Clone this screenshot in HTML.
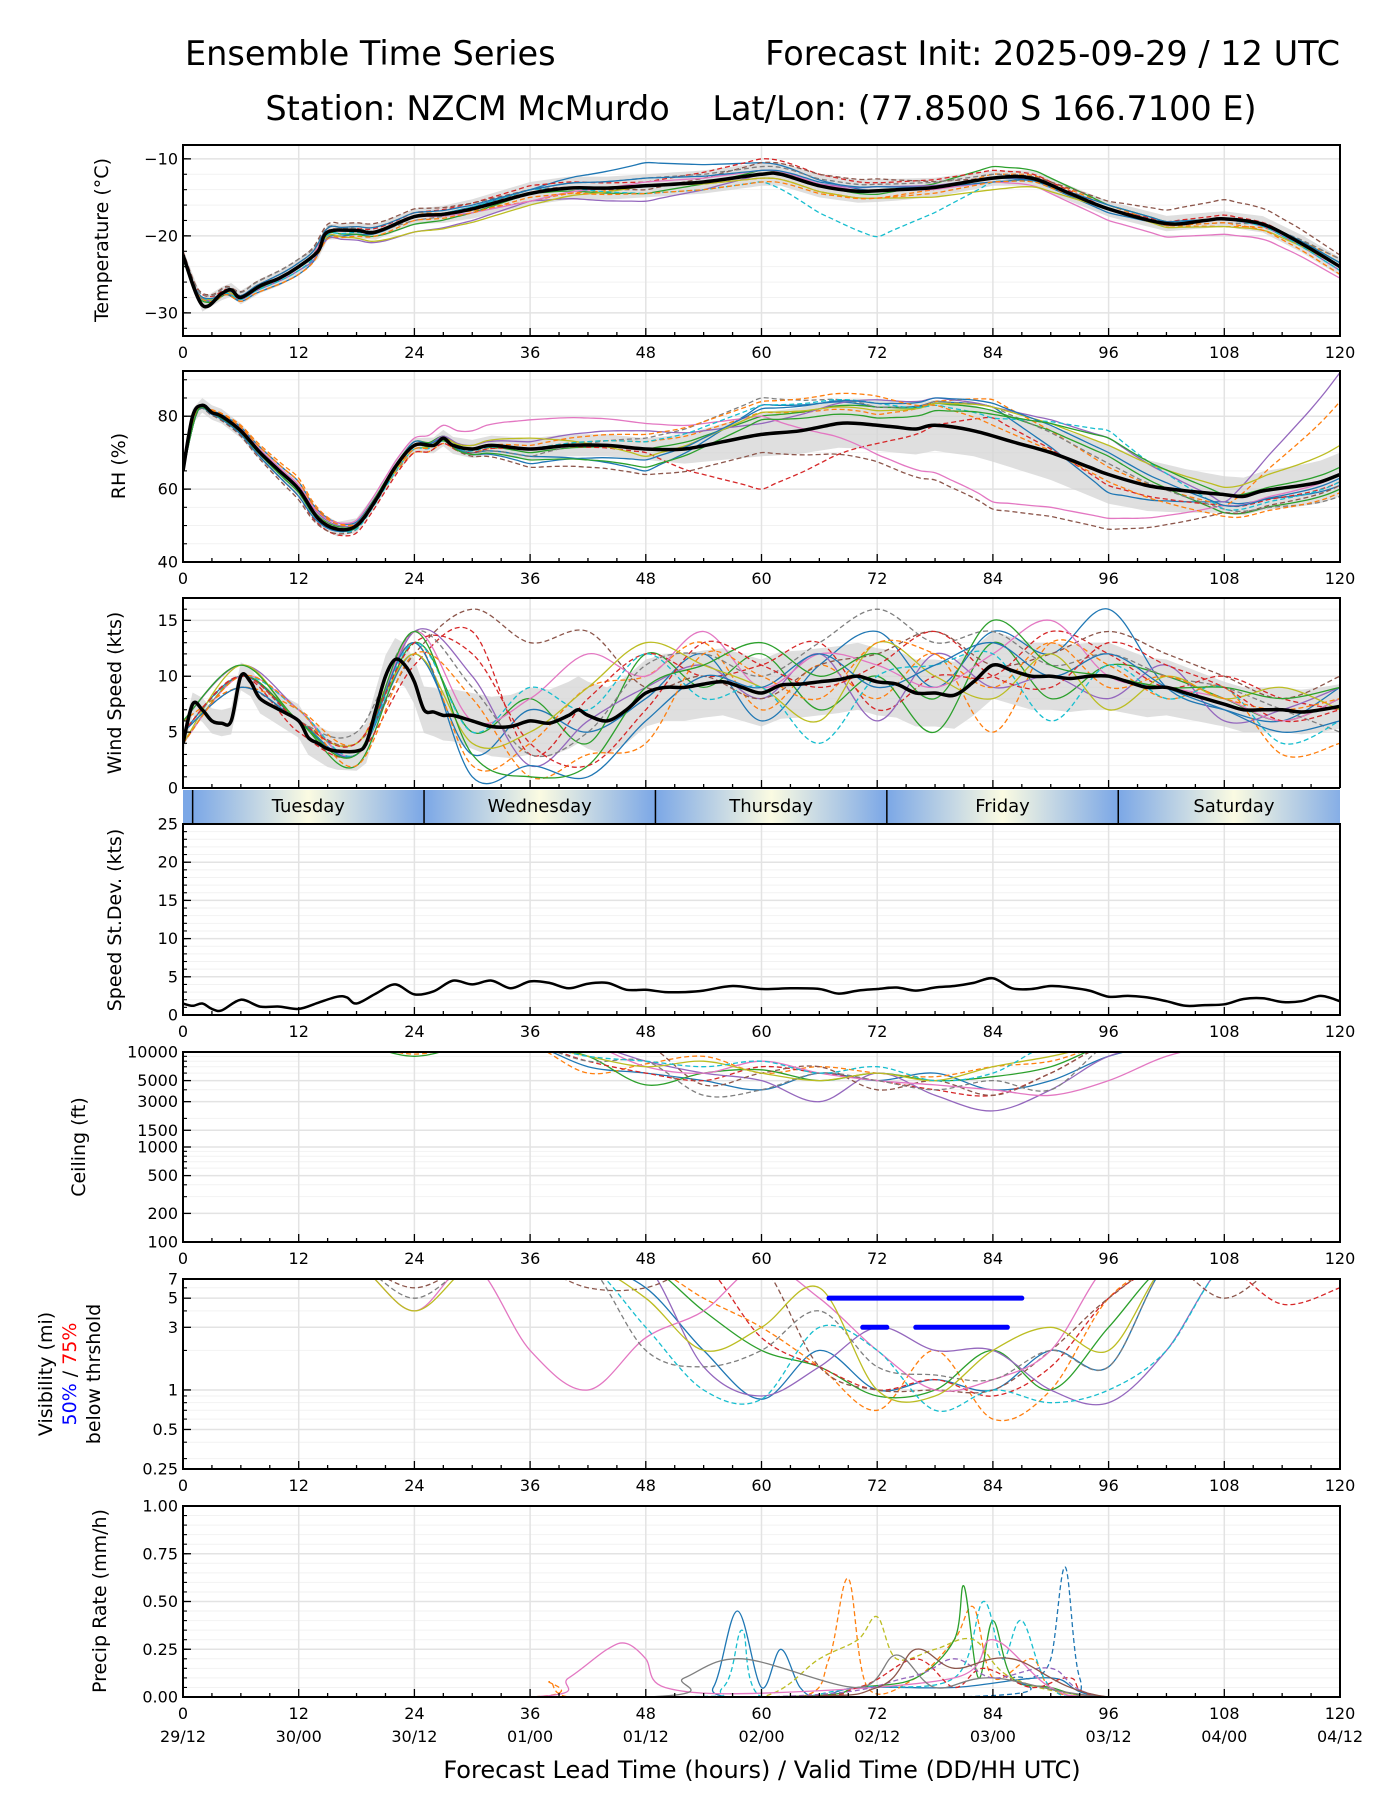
<!DOCTYPE html>
<html><head><meta charset="utf-8"><title>Ensemble Time Series</title>
<style>
html,body{margin:0;padding:0;background:#fff;}
svg{display:block;font-family:"DejaVu Sans","Liberation Sans",sans-serif;}
</style></head>
<body>
<svg id="chart" width="1400" height="1800" viewBox="0 0 1400 1800" xmlns="http://www.w3.org/2000/svg">
<rect x="0" y="0" width="1400" height="1800" fill="#fff"/>
<text x="185" y="65" font-size="33.5" fill="#000">Ensemble Time Series</text>
<text x="1340" y="65" font-size="33.5" fill="#000" text-anchor="end">Forecast Init: 2025-09-29 / 12 UTC</text>
<text x="761" y="120" font-size="33.5" fill="#000" text-anchor="middle" xml:space="preserve">Station: NZCM McMurdo    Lat/Lon: (77.8500 S 166.7100 E)</text>
<text x="762" y="1778" font-size="24" fill="#000" text-anchor="middle">Forecast Lead Time (hours) / Valid Time (DD/HH UTC)</text>
</svg>
<script>
// ---------- DATA ----------
const colors=["#1f77b4","#ff7f0e","#2ca02c","#d62728","#9467bd","#8c564b","#e377c2","#7f7f7f","#bcbd22","#17becf"];
const xTickHours=[0,12,24,36,48,60,72,84,96,108,120];
const dateLabels=["29/12","30/00","30/12","01/00","01/12","02/00","02/12","03/00","03/12","04/00","04/12"];
const dayNames=["Tuesday","Wednesday","Thursday","Friday","Saturday"];
const dayStarts=[1,25,49,73,97];
const grid12=[0,12,24,36,48,60,72,84,96,108,120];
const grid6=[0,6,12,18,24,30,36,42,48,54,60,66,72,78,84,90,96,102,108,114,120];

const tempHours=[0,2,4,5,6,8,10,12,14,15,18,20,24,27,30,36,40,44,48,54,60,62,66,70,74,78,84,88,92,96,102,106,108,112,116,120];
const tempMean=[-22.5,-29,-27.5,-27,-28,-26.5,-25.5,-24,-22,-19.5,-19.3,-19.5,-17.5,-17.2,-16.5,-14.5,-13.8,-13.8,-13.5,-13,-12,-12,-13.5,-14.2,-14,-13.7,-12.5,-12.5,-14.5,-16.5,-18.4,-18,-17.8,-18.5,-21,-24];
const tempSpread=[0.8,1,1,1.5,1.5,1.5,1.5,1,1,1,1.2];
const tempM1=[0,-1,0,0.5,3,1.5,0,0,-0.5,0,0];
const tempM2=[0,0.5,0.5,-1,0,-0.5,-1,0.5,0.5,-1,1];
const tempM3=[-0.5,0,-1,0,-1,0.5,-0.5,1.5,0.5,0,0.5];
const tempM4=[0.5,0,0.5,1,0.5,2,1,1,0,0.5,0];
const tempM5=[0,-0.5,-2,-1,-2,0,0.5,0,0,0,-0.5];
const tempM6=[0.5,1,1,0.5,-0.5,1.5,1.5,0,1,2.5,1.5];
const tempM7=[0,0,0,-1,0.5,0.5,0,-0.5,-1.5,-2,-1.5];
const tempM8=[0.3,1,-0.5,0.5,1,1,0.8,0.5,0,-0.5,1];
const tempM9=[0,0,-2,-1.5,0,-0.5,-1,-1.5,0,-1,0];
const tempM10=[0,-0.5,0,0.5,-1,-1,-6,-0.5,0,0,-0.5];
const tempM11=[0,0.5,0.5,0.5,1,0.5,0.5,-0.5,0.5,0,0.5];
const tempM12=[0,-1,-0.5,-0.5,-1,-1,-1,-0.5,0,-0.5,-1];

const rhHours=[0,1,2,3,4,6,8,10,12,14,16,18,20,22,24,26,27,28,30,32,36,40,44,48,52,56,60,64,68,70,72,74,76,78,82,86,90,94,96,100,104,108,110,112,116,118,120];
const rhMean=[65,80,83,81,80,76,70,65,60,52,49,50,57,66,72,72,74,72,71,72,71,72,72,71,71,73,75,76,78,78,77.5,77,76.5,77.5,76,73,70,66,64,61,59.5,58.5,58,59.5,61,62,64];
const rhSpread=[2,2,2,3,3,6,7,7,8,5,6];
const rhM1=[0,2,0,-2,-6,8,5,8,-5,-2,-3];
const rhM2=[0,3,-2,0,2,6,3,10,2,-3,20];
const rhM3=[0,0,1,-1,0,5,5,7,5,-5,-4];
const rhM4=[0,-2,-2,0,-1,-15,-5,5,-3,-3,-2];
const rhM5=[0,1,0,2,5,3,7,8,10,-2,28];
const rhM6=[0,-3,1,-5,-7,-5,-10,-20,-15,-5,-3];
const rhM7=[0,1,2,8,7,5,-8,-18,-12,-3,0];
const rhM8=[0,0,0,-2,3,10,5,8,3,-4,-6];
const rhM9=[0,0,-1,3,-2,6,4,8,8,2,8];
const rhM10=[0,-1,-1,0,2,8,6,5,12,-4,-2];
const rhM11=[0,-2,1,-4,-3,7,6,9,6,-3,-1];
const rhM12=[0,2,-1,1,4,9,8,3,-2,-6,-5];
const rhM13=[0,-1,0,-3,-5,4,2,6,10,0,2];

const windHours=[0,1,2,3,4,5,6,7,8,10,12,13,14,15,16,18,19,20,21,22,23,24,25,26,27,28,30,32,34,36,38,40,41,42,44,46,48,50,52,54,56,58,60,62,64,66,68,70,72,74,76,78,80,82,84,86,88,90,92,94,96,98,100,102,104,106,108,110,112,114,116,118,120];
const windMean=[4,7.5,7,6,5.8,6,10,9.5,8,7,6,4.5,4,3.5,3.3,3.3,4,7,10,11.5,11,9.5,7,6.8,6.5,6.5,6,5.5,5.5,6,5.8,6.5,7,6.5,6,7,8.5,9,9,9.3,9.5,9,8.5,9.2,9.3,9.5,9.7,10,9.5,9.3,8.5,8.5,8.3,9.5,11,10.5,10,10,9.8,10,10,9.5,9,9,8.5,8,7.5,7,7,7,6.8,7,7.3];
const windSpread=[1,1.5,2,3,3,3,3,3,3,2,2];
const windM1=[5,10,6,3,12,3,7,5,8,12,6,11,14,9,14,12,16,9,7,6,9];
const windM2=[6,9,7,4,13,2,4,9,10,13,7,11,8,12,5,13,11,8,9,3,4];
const windM3=[4,10,6,2,13,5,8,4,12,9,12,7,10,5,13,8,11,10,8,6,8];
const windM4=[5,10,5,3,11,14,3,8,12,10,11,13,7,10,10,14,12,9,10,8,7];
const windM5=[6,11,7,3,14,10,2,6,9,11,8,12,6,12,9,10,8,11,6,7,9];
const windM6=[5,9,6,4,12,16,13,14,9,10,8,11,12,14,11,12,14,12,10,8,10];
const windM7=[4,10,7,3,14,6,8,12,10,14,9,12,11,9,12,15,10,9,8,6,8];
const windM8=[5,10,6,5,14,9,3,5,11,12,10,13,16,13,14,11,12,10,9,7,5];
const windM9=[4,11,6,4,12,4,5,9,13,11,9,6,13,10,8,12,7,10,8,9,7];
const windM10=[5,10,7,3,13,5,9,7,12,8,9,4,10,11,12,6,11,8,9,4,6];
const windM11=[5,9,6,3,13,1,2,1,6,10,9,12,9,11,13,10,12,9,7,5,6];
const windM12=[4,10,7,2,12,8,1,3,4,12,10,8,13,12,9,13,9,10,8,7,8];
const windM13=[6,11,6,3,14,3,1,2,9,11,13,10,12,8,15,11,10,9,9,8,9];
const windM14=[5,10,6,4,13,12,4,2,7,13,11,9,11,14,10,9,13,11,9,6,7];

const sdHours=[0,1,2,3,4,6,8,10,12,14,16,17,18,20,22,24,26,28,30,32,34,36,38,40,42,44,46,48,50,52,54,57,60,63,66,68,70,72,74,76,78,80,82,84,86,88,90,92,94,96,98,100,102,104,106,108,110,112,114,116,118,120];
const sdValues=[1.5,1.2,1.5,0.8,0.6,2,1.1,1.1,0.8,1.6,2.4,2.3,1.5,2.8,4,2.7,3.1,4.5,4,4.5,3.5,4.4,4.2,3.5,4.1,4.2,3.3,3.3,3,3,3.2,3.8,3.4,3.5,3.4,2.8,3.2,3.4,3.6,3.2,3.6,3.8,4.2,4.8,3.5,3.4,3.8,3.6,3.2,2.4,2.5,2.3,1.8,1.2,1.3,1.4,2.1,2.2,1.7,1.8,2.5,1.8];

const ceilM1=[12000,12000,12000,12000,12000,12000,12000,7000,6000,5000,4000,6000,5000,6000,4000,5000,9000,12000,12000,12000,12000];
const ceilM2=[12000,12000,12000,12000,9500,12000,12000,6000,7500,9000,6000,7000,6000,5500,7000,8000,12000,12000,11000,12000,12000];
const ceilM3=[12000,12000,12000,12000,9000,12000,12000,9000,4500,6000,6500,5000,6000,5000,5500,7000,12000,12000,12000,12000,12000];
const ceilM4=[12000,12000,12000,12000,12000,12000,12000,8000,6000,5000,7000,6000,5000,4000,3500,6000,12000,12000,12000,12000,12000];
const ceilM5=[12000,12000,12000,12000,12000,12000,12000,12000,8000,6000,5000,3000,6000,3500,2400,4000,9000,12000,12000,12000,12000];
const ceilM6=[12000,12000,12000,12000,12000,12000,12000,12000,12000,4500,6000,7000,4000,5000,3500,6000,12000,12000,12000,12000,12000];
const ceilM7=[12000,12000,12000,12000,12000,12000,12000,12000,7000,6000,8000,6000,5000,4500,4000,3500,5000,9000,12000,12000,12000];
const ceilM8=[12000,12000,12000,12000,12000,12000,12000,8000,8000,3500,4000,6000,5000,4000,5000,4000,12000,12000,12000,12000,12000];
const ceilM9=[12000,12000,12000,12000,12000,12000,12000,9000,7000,8000,6000,5000,6000,5000,7000,9000,12000,12000,12000,12000,12000];
const ceilM10=[12000,12000,12000,12000,12000,12000,12000,9000,8000,7000,8000,6000,7000,5000,6000,12000,12000,12000,12000,12000,12000];

const visM1=[9,9,9,9,9,9,9,9,6,2,0.85,2,1,1.2,1,2,1.5,9,9,9,9];
const visM2=[9,9,9,9,9,9,9,9,9,5,3,1.5,0.7,2,0.6,1,5,9,9,9,9];
const visM3=[9,9,9,9,9,9,9,9,9,4,2,1.5,0.9,1,2,1,3,9,9,9,9];
const visM4=[9,9,9,9,9,9,9,9,9,9,2.5,1.5,1,1.2,0.9,1.5,5,9,9,4.5,6];
const visM5=[9,9,9,9,9,9,9,9,9,1.5,0.9,1.5,3,2,2,1,0.8,2,9,9,9];
const visM6=[9,9,9,9,6,9,9,6,6,9,9,1.5,1,1,1,2,5,9,5,9,9];
const visM7=[9,9,9,9,4,9,2,1,2.5,4,9,5,2,1,1.2,2,9,9,9,9,9];
const visM8=[9,9,9,9,5,9,9,9,2,1.5,2,4,1.5,1.3,1.2,2,1.5,9,9,9,9];
const visM9=[9,9,9,9,4,9,9,9,5,2,3,6,1,0.9,2,3,2,9,9,9,9];
const visM10=[9,9,9,9,9,9,9,9,3,1,0.85,3,2,0.7,1,0.8,1,2,9,9,9];
const visThrLevel=[5,3,3];
const visThrStart=[67,70.5,76];
const visThrEnd=[87,73,85.5];

const precipH1=[0,52,55,57.5,60,62,64,66,70,80,90,96];
const precipV1=[0,0,0.05,0.45,0.05,0.25,0.05,0,0.05,0.05,0.1,0];
const precipH2=[0,36,38,40,50,64,67,69,71,76,80,82,84,88,90,95];
const precipV2=[0,0,0.08,0,0,0,0.2,0.62,0.05,0.1,0.3,0.47,0.1,0.2,0.05,0];
const precipH3=[0,60,70,76,80,81,82.5,84,86,90,96];
const precipV3=[0,0,0.05,0.1,0.3,0.58,0.1,0.4,0.1,0.05,0];
const precipH4=[0,50,56,58,60,70,80,83,85,87,90,96];
const precipV4=[0,0,0.05,0.35,0,0.05,0.1,0.5,0.2,0.4,0.05,0];
const precipH5=[0,80,86,88,90,91.5,93,96];
const precipV5=[0,0,0.1,0.1,0.2,0.68,0.1,0];
const precipH6=[0,48,60,66,70,72,74,78,82,86,96];
const precipV6=[0,0,0,0.2,0.3,0.42,0.2,0.25,0.3,0.1,0];
const precipH7=[0,36,40,44,46,48,50,60,80,84,90,96];
const precipV7=[0,0,0.1,0.25,0.28,0.2,0.05,0.02,0.1,0.3,0.05,0];
const precipH8=[0,60,70,76,80,83,88,92,96];
const precipV8=[0,0,0.05,0.2,0.05,0.15,0.05,0.1,0];
const precipH9=[0,48,52,58,70,74,78,84,96];
const precipV9=[0,0,0.1,0.2,0.05,0.22,0.05,0.1,0];
const precipH10=[0,60,75,80,84,90,96];
const precipV10=[0,0,0.1,0.2,0.1,0.15,0];
const precipH11=[0,60,72,76,80,86,96];
const precipV11=[0,0,0.05,0.25,0.15,0.2,0];

// ---------- HELPERS ----------
const NS="http://www.w3.org/2000/svg";
const svg=document.getElementById("chart");
const X0=183,X1=1340;
const xs=h=>X0+h*(X1-X0)/120;
function mk(tag,attrs,parent){const e=document.createElementNS(NS,tag);for(const k in attrs)e.setAttribute(k,attrs[k]);(parent||svg).appendChild(e);return e;}
function interp(hs,vs,h){if(h<=hs[0])return vs[0];for(let i=1;i<hs.length;i++){if(h<=hs[i]){const t=(h-hs[i-1])/(hs[i]-hs[i-1]);return vs[i-1]+t*(vs[i]-vs[i-1]);}}return vs[vs.length-1];}
function smooth(pts){if(!pts.length)return"";let d="M"+pts[0][0].toFixed(1)+","+pts[0][1].toFixed(1);for(let i=0;i<pts.length-1;i++){const p0=pts[Math.max(0,i-1)],p1=pts[i],p2=pts[i+1],p3=pts[Math.min(pts.length-1,i+2)];const c1x=p1[0]+(p2[0]-p0[0])/6,c1y=p1[1]+(p2[1]-p0[1])/6,c2x=p2[0]-(p3[0]-p1[0])/6,c2y=p2[1]-(p3[1]-p1[1])/6;d+="C"+c1x.toFixed(1)+","+c1y.toFixed(1)+" "+c2x.toFixed(1)+","+c2y.toFixed(1)+" "+p2[0].toFixed(1)+","+p2[1].toFixed(1);}return d;}
function linY(p){return v=>p.b-(v-p.min)/(p.max-p.min)*(p.b-p.t);}
function logY(p){const a=Math.log10(p.min),b=Math.log10(p.max);return v=>p.b-(Math.log10(v)-a)/(b-a)*(p.b-p.t);}

function frame(p,key,majors,labels,minors){
  const g=mk("g",{});
  
  
  const cp=mk("clipPath",{id:"clip-"+key},g);
  mk("rect",{x:X0,y:p.t,width:X1-X0,height:p.b-p.t},cp);
  minors.forEach(v=>{const y=p.y(v);const l=mk("line",{x1:X0,x2:X1,y1:y,y2:y,stroke:"#f2f2f2","stroke-width":1},g);
    
    });
  majors.forEach(v=>{const y=p.y(v);const l=mk("line",{x1:X0,x2:X1,y1:y,y2:y,stroke:"#e3e3e3","stroke-width":1.5},g);
    
    });
  xTickHours.forEach(h=>{const l=mk("line",{x1:xs(h),x2:xs(h),y1:p.t,y2:p.b,stroke:"#e3e3e3","stroke-width":1.5},g);
    
    });
  const data=mk("g",{"clip-path":"url(#clip-"+key+")"},g);
  
  
  p.data=data;
  p.axisGroup=g;
  p.key=key;p.majors=majors;p.labels=labels;p.minors=minors;
  return p;
}
function finish(p,showHours){
  const g=p.axisGroup,key=p.key;
  for(let h=0;h<=120;h+=3){const maj=h%12===0;const l=mk("line",{x1:xs(h),x2:xs(h),y1:p.b,y2:p.b-(maj?8:4),stroke:"#000","stroke-width":1.3},g);
    
    }
  p.minors.forEach(v=>{const y=p.y(v);const l=mk("line",{x1:X0,x2:X0+4,y1:y,y2:y,stroke:"#000","stroke-width":1.1},g);
    
    });
  p.majors.forEach((v,i)=>{const y=p.y(v);const l=mk("line",{x1:X0,x2:X0+8,y1:y,y2:y,stroke:"#000","stroke-width":1.3},g);
    
    
    const t=mk("text",{x:X0-5,y:y+5.5,"font-size":16,"text-anchor":"end",fill:"#000"},g);
    
    
    t.textContent=p.labels[i];});
  const r=mk("rect",{x:X0,y:p.t,width:X1-X0,height:p.b-p.t,fill:"none",stroke:"#000","stroke-width":2},g);
  
  
  if(showHours){xTickHours.forEach(h=>{const t=mk("text",{x:xs(h),y:p.b+22,"font-size":16,"text-anchor":"middle",fill:"#000"},g);
    
    
    t.textContent=String(h);});}
}
function ylabel(lines,x,cy,key){
  lines.forEach((ln,i)=>{const t=mk("text",{x:0,y:0,"font-size":19,"text-anchor":"middle",fill:"#000",transform:"translate("+(x+i*24)+","+cy+") rotate(-90)"});
    
    
    if(Array.isArray(ln)){ln.forEach(sp=>{const s=mk("tspan",{fill:sp[1]},t);s.textContent=sp[0];});}else t.textContent=ln;});
}
function drawMemberOffsets(p,mh,mv,offs,key){
  offs.forEach((o,i)=>{const pts=[];for(let h=0;h<=120;h+=1.5){pts.push([xs(h),p.y(interp(mh,mv,h)+interp(grid12,o,h))]);}
    const path=mk("path",{d:smooth(pts),fill:"none",stroke:colors[i%10],"stroke-width":1.3,"stroke-dasharray":i%2?"5,3":"none"},p.data);
    
    });
}
function drawMemberAbs(p,grid,mems,key,clampMin){
  mems.forEach((m,i)=>{const pts=grid.map((h,j)=>[xs(h),p.y(Math.max(clampMin,m[j]))]);
    const path=mk("path",{d:smooth(pts),fill:"none",stroke:colors[i%10],"stroke-width":1.3,"stroke-dasharray":i%2?"5,3":"none"},p.data);
    
    });
}
function drawBand(p,mh,mv,spread,key){
  const up=[],lo=[];for(let h=0;h<=120;h+=1){const m=interp(mh,mv,h),s=interp(grid12,spread,h);up.push(xs(h).toFixed(1)+","+p.y(m+s).toFixed(1));lo.unshift(xs(h).toFixed(1)+","+p.y(m-s).toFixed(1));}
  const poly=mk("polygon",{points:up.concat(lo).join(" "),fill:"#d4d4d4","fill-opacity":0.75},p.data);
  
  
}
function drawMean(p,mh,mv,key,w){
  const pts=mh.map((h,i)=>[xs(h),p.y(mv[i])]);
  const path=mk("path",{d:smooth(pts),fill:"none",stroke:"#000","stroke-width":w,"stroke-linejoin":"round"},p.data);
  
  
}
function rng(a,b,s){const r=[];for(let v=a;v<=b+1e-9;v+=s)r.push(+v.toFixed(3));return r;}

// ---------- TEMPERATURE ----------
const pT={t:145,b:336,min:-33,max:-8.2};pT.y=linY(pT);
frame(pT,"temperature",[-10,-20,-30],["\u221210","\u221220","\u221230"],rng(-32,-10,2));
drawBand(pT,tempHours,tempMean,tempSpread,"temperature");
drawMemberOffsets(pT,tempHours,tempMean,[tempM1,tempM2,tempM3,tempM4,tempM5,tempM6,tempM7,tempM8,tempM9,tempM10,tempM11,tempM12],"temperature");
drawMean(pT,tempHours,tempMean,"temperature",3.5);
finish(pT,true);
ylabel(["Temperature (\u00b0C)"],108,240,"temperature");

// ---------- RH ----------
const pR={t:371,b:562,min:40,max:92.4};pR.y=linY(pR);
frame(pR,"rh",[40,60,80],["40","60","80"],rng(45,90,5));
drawBand(pR,rhHours,rhMean,rhSpread,"rh");
drawMemberOffsets(pR,rhHours,rhMean,[rhM1,rhM2,rhM3,rhM4,rhM5,rhM6,rhM7,rhM8,rhM9,rhM10,rhM11,rhM12,rhM13],"rh");
drawMean(pR,rhHours,rhMean,"rh",3.5);
finish(pR,true);
ylabel(["RH (%)"],125,466,"rh");

// ---------- WIND ----------
const pW={t:598,b:788,min:0,max:17};pW.y=linY(pW);
frame(pW,"wind",[0,5,10,15],["0","5","10","15"],rng(1,16,1));
drawBand(pW,windHours,windMean,windSpread,"wind");
drawMemberAbs(pW,grid6,[windM1,windM2,windM3,windM4,windM5,windM6,windM7,windM8,windM9,windM10,windM11,windM12,windM13,windM14],"wind",0);
drawMean(pW,windHours,windMean,"wind",3.5);
finish(pW,false);
ylabel(["Wind Speed (kts)"],121,693,"wind");

// ---------- DAY BAND ----------
(function(){
  const defs=mk("defs",{});
  const lg=mk("linearGradient",{id:"dayGrad",x1:"0",x2:"1",y1:"0",y2:"0"},defs);
  mk("stop",{offset:"0","stop-color":"#7ba7e6"},lg);
  mk("stop",{offset:"0.5","stop-color":"#fbfbe2"},lg);
  mk("stop",{offset:"1","stop-color":"#7ba7e6"},lg);
  const g=mk("g",{});
  
  
  const r0=mk("rect",{x:X0,y:790,width:X1-X0,height:33,fill:"#7ba7e6"},g);
  
  
  dayStarts.forEach((s,i)=>{
    const r=mk("rect",{x:xs(s),y:790,width:xs(s+24)-xs(s),height:33,fill:"url(#dayGrad)"},g);
    
    
    const l=mk("line",{x1:xs(s),x2:xs(s),y1:790,y2:823,stroke:"#000","stroke-width":1.5},g);
    
    
    const t=mk("text",{x:xs(s+12),y:812,"font-size":18,"text-anchor":"middle",fill:"#000"},g);
    
    
    t.textContent=dayNames[i];});
  const cover=mk("rect",{x:X1,y:788,width:60,height:36,fill:"#fff"},g);
  
  
})();

// ---------- STDEV ----------
const pS={t:824,b:1015,min:0,max:25};pS.y=linY(pS);
frame(pS,"speed-stdev",[0,5,10,15,20,25],["0","5","10","15","20","25"],rng(1,24,1));
drawMean(pS,sdHours,sdValues,"speed-stdev",2.5);
finish(pS,true);
ylabel(["Speed St.Dev. (kts)"],121,920,"speed-stdev");

// ---------- CEILING ----------
const pC={t:1052,b:1242,min:100,max:10000};pC.y=logY(pC);
frame(pC,"ceiling",[100,200,500,1000,1500,3000,5000,10000],["100","200","500","1000","1500","3000","5000","10000"],[300,400,600,700,800,900,2000,4000,6000,7000,8000,9000]);
drawMemberAbs(pC,grid6,[ceilM1,ceilM2,ceilM3,ceilM4,ceilM5,ceilM6,ceilM7,ceilM8,ceilM9,ceilM10],"ceiling",100);
finish(pC,true);
ylabel(["Ceiling (ft)"],85,1147,"ceiling");

// ---------- VISIBILITY ----------
const pV={t:1279,b:1469,min:0.25,max:7};pV.y=logY(pV);
frame(pV,"visibility",[0.25,0.5,1,3,5,7],["0.25","0.5","1","3","5","7"],[0.3,0.4,0.6,0.7,0.8,0.9,2,4,6]);
drawMemberAbs(pV,grid6,[visM1,visM2,visM3,visM4,visM5,visM6,visM7,visM8,visM9,visM10],"visibility",0.3);
visThrLevel.forEach((lv,i)=>{const l=mk("line",{x1:xs(visThrStart[i]),x2:xs(visThrEnd[i]),y1:pV.y(lv),y2:pV.y(lv),stroke:"#0000ff","stroke-width":5,"stroke-linecap":"round"},pV.data);
  
  });
finish(pV,true);
ylabel(["Visibility (mi)",[["50%","#0000ff"],[" / ","#000"],["75%","#ff0000"]],"below thrshold"],52,1374,"visibility");

// ---------- PRECIP ----------
const pP={t:1506,b:1697,min:0,max:1};pP.y=linY(pP);
frame(pP,"precip",[0,0.25,0.5,0.75,1],["0.00","0.25","0.50","0.75","1.00"],rng(0.05,0.95,0.05));
const precipHs=[precipH1,precipH2,precipH3,precipH4,precipH5,precipH6,precipH7,precipH8,precipH9,precipH10,precipH11];
const precipVs=[precipV1,precipV2,precipV3,precipV4,precipV5,precipV6,precipV7,precipV8,precipV9,precipV10,precipV11];
const precipColorIdx=[0,1,2,9,0,8,6,3,7,4,5];
precipHs.forEach((hs,i)=>{const pts=hs.map((h,j)=>[xs(h),pP.y(precipVs[i][j])]);pts.push([xs(120),pP.y(0)]);
  const path=mk("path",{d:smooth(pts),fill:"none",stroke:colors[precipColorIdx[i]],"stroke-width":1.3,"stroke-dasharray":(i%2||i===4)?"5,3":"none"},pP.data);
  
  });
finish(pP,true);
ylabel(["Precip Rate (mm/h)"],106,1601,"precip");
dateLabels.forEach((d,i)=>{const t=mk("text",{x:xs(xTickHours[i]),y:1742,"font-size":16,"text-anchor":"middle",fill:"#000"});
  
  
  t.textContent=d;});
</script>
</body></html>
